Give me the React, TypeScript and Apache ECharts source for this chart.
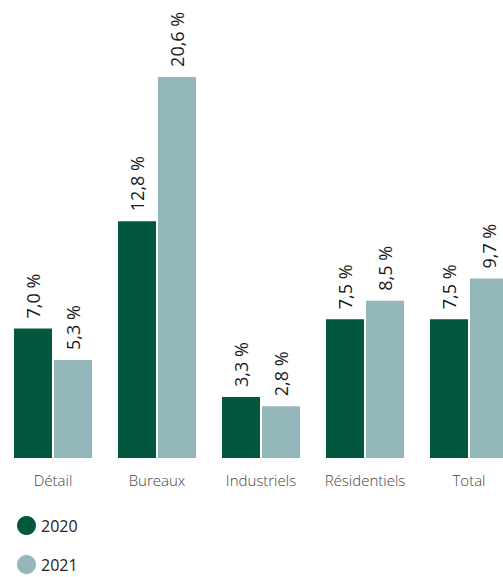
import React, { useEffect, useRef } from "react";
import * as echarts from "echarts";

const categories = ["Détail", "Bureaux", "Industriels", "Résidentiels", "Total"];
const values2020 = [7.0, 12.8, 3.3, 7.5, 7.5];
const values2021 = [5.3, 20.6, 2.8, 8.5, 9.7];
const seriesNames = ["2020", "2021"];
const colors = ["#04573F", "#94B7BC"];

const fmt = (v: number) => v.toFixed(1).replace(".", ",") + " %";

export default function App() {
  const ref = useRef<HTMLDivElement>(null);
  useEffect(() => {
    if (!ref.current) return;
    const chart = echarts.init(ref.current, null, { renderer: "svg" });
    const font = "'Open Sans', sans-serif";
    const mk = (name: string, data: number[], color: string) => ({
      name,
      type: "bar",
      data,
      barGap: "5.3%",
      barCategoryGap: "25%",
      itemStyle: { color },
      label: {
        show: true,
        position: "top",
        rotate: 90,
        align: "left",
        verticalAlign: "middle",
        distance: 10,
        fontFamily: font,
        fontWeight: 400,
        fontSize: 18,
        color: "#1a1a1a",
        formatter: (p: any) => fmt(p.value),
      },
    });
    chart.setOption({
      animation: false,
      grid: { left: 1, right: 0, top: 51, bottom: 119 },
      legend: {
        orient: "vertical",
        left: 12,
        top: 511,
        height: 66,
        icon: "circle",
        itemWidth: 19,
        itemHeight: 19,
        itemGap: 20,
        data: seriesNames,
        textStyle: { fontFamily: font, fontSize: 16, color: "#222", fontWeight: 400 },
        selectedMode: false,
      },
      xAxis: {
        type: "category",
        data: categories,
        axisLine: { show: false },
        axisTick: { show: false },
        axisLabel: {
          interval: 0,
          margin: 14,
          fontFamily: font,
          fontWeight: 300,
          fontSize: 15,
          color: "#444",
        },
      },
      yAxis: {
        type: "value",
        min: 0,
        max: 22,
        show: false,
        splitLine: { show: false },
      },
      series: [
        mk(seriesNames[0], values2020, colors[0]),
        mk(seriesNames[1], values2021, colors[1]),
      ],
    });
    return () => chart.dispose();
  }, []);
  return (
    <div style={{ position: "absolute", left: 0, top: 0, width: 503, height: 577, overflow: "hidden" }}>
      <div ref={ref} style={{ width: 521, height: 577 }} />
    </div>
  );
}
